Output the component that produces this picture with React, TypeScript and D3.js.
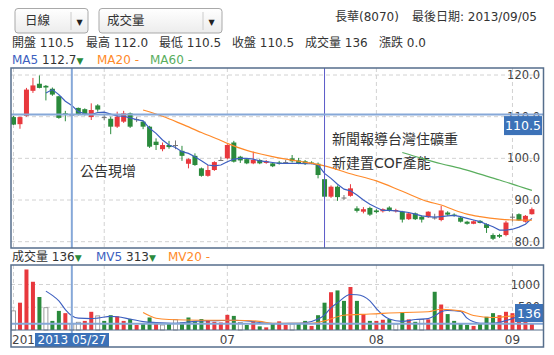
import React from 'react';
import * as d3 from 'd3';

const year = '2013';
const dates = [
  '05/14','05/15','05/16','05/17','05/20','05/21','05/22','05/23','05/24','05/27','05/28','05/29','05/30','05/31',
  '06/03','06/04','06/05','06/06','06/07','06/10','06/11','06/13','06/14','06/17','06/18','06/19','06/20','06/21','06/24','06/25','06/26','06/27','06/28',
  '07/01','07/02','07/03','07/04','07/05','07/08','07/09','07/10','07/11','07/12','07/15','07/16','07/17','07/18','07/19','07/22','07/23','07/24','07/25','07/26','07/29','07/30','07/31',
  '08/01','08/02','08/05','08/06','08/07','08/08','08/09','08/12','08/13','08/14','08/15','08/16','08/19','08/20','08/22','08/23','08/26','08/27','08/28','08/29','08/30',
  '09/02','09/03','09/04','09/05'
];

const open = [109.9,108.2,110.2,116.2,117.9,117.4,116.7,114.9,110.8,110.5,
 112.1,111.8,109.9,112.7,109.9,109.5,107.6,108.8,110.8,109.4,
 108.8,107.6,104.0,102.2,103.2,103.2,101.8,98.7,100.6,97.6,
 95.8,97.2,99.6,100.0,103.8,100.4,99.8,98.8,99.6,98.9,
 98.8,99.0,99.1,100.0,99.5,99.3,99.0,98.7,95.0,90.8,
 93.2,90.6,91.0,88.0,87.2,88.1,87.5,87.3,88.2,87.3,
 87.2,85.4,86.8,86.0,85.9,85.8,85.2,87.0,86.5,85.8,
 84.8,84.3,85.0,84.2,81.6,81.6,81.6,86.0,86.6,84.8,
 86.6];
const high = [110.2,110.0,116.9,119.3,119.9,117.6,117.0,115.0,111.4,112.0,
 112.2,112.0,113.2,113.0,110.5,110.0,111.2,111.4,111.0,110.0,
 109.0,107.8,104.8,103.8,104.2,104.3,103.0,100.0,101.2,97.8,
 98.4,99.3,100.4,103.4,104.2,100.6,100.0,101.6,99.8,99.6,
 99.0,99.4,99.6,100.8,100.1,99.6,99.3,99.0,95.2,93.5,
 93.5,91.2,93.8,88.5,88.3,88.4,87.8,88.0,88.5,87.9,
 87.4,87.0,87.0,86.3,87.3,86.7,88.6,87.3,86.8,86.0,
 85.0,85.1,85.2,84.4,82.0,81.9,85.0,86.8,86.8,86.4,
 88.2];
const low = [108.0,107.1,110.0,115.7,116.8,113.9,115.0,109.5,108.9,110.5,
 110.3,110.3,109.2,111.2,109.2,105.8,107.3,108.5,107.3,108.7,
 107.0,102.5,102.0,101.7,102.3,102.2,99.4,97.6,98.2,95.6,
 95.6,97.0,99.6,99.8,99.0,98.9,98.6,98.6,98.6,98.7,
 97.9,98.5,98.9,99.0,98.6,98.4,98.6,95.2,90.6,90.5,
 89.8,90.0,90.8,87.0,86.8,86.2,86.8,87.0,87.2,87.0,
 84.6,85.2,85.2,84.6,85.7,85.3,84.9,86.2,86.0,84.6,
 84.1,84.2,84.4,82.1,80.4,80.9,81.3,84.8,85.0,84.6,
 86.5];
const close = [108.1,109.9,116.5,117.5,116.9,117.0,115.3,109.7,110.5,110.5,
 110.5,110.4,111.6,111.7,109.9,107.6,110.0,110.8,107.6,109.4,
 107.6,102.8,103.2,103.2,102.7,103.2,100.6,99.8,98.4,95.8,
 97.2,99.1,99.6,103.2,99.2,99.5,98.8,99.6,98.8,99.3,
 98.1,98.7,99.1,99.3,98.8,98.7,98.8,96.0,90.8,93.2,
 90.7,90.6,92.8,87.4,87.8,86.5,87.1,87.8,87.5,87.6,
 85.3,86.8,85.4,85.3,87.2,85.8,87.5,86.5,86.3,84.8,
 84.3,84.9,84.5,83.3,80.7,81.2,84.6,86.0,85.1,86.2,
 87.8];

const volume = [420,600,1330,1060,725,490,200,420,370,136,
 170,200,400,310,200,325,300,200,240,110,
 130,275,165,110,150,225,165,275,200,240,
 217,180,165,333,310,165,110,200,80,58,
 150,190,110,130,130,200,90,325,600,830,
 870,640,945,640,350,200,200,225,240,130,
 385,233,180,233,233,840,560,350,200,150,
 110,90,150,290,370,325,400,370,300,250,
 150];
const volDir = ('wrrrgwggrw' + 'wrrwggrrgr' + 'ggrwgwgggg' + 'rrrrgwgrgr' + 'grrwggrggr' +
  'ggrgrgrrgw' + 'grgwrgrggg' + 'grgggrrrrr' + 'r').split('');

const ma5Start = 5;
const ma5 = [115.7,116.5,115.3,113.7,112.7,111.2,110.7,110.5,111.0,111.1,
 110.6,110.2,110.1,109.7,109.3,109.0,107.2,106.0,104.4,103.2,
 102.6,101.6,101.2,100.4,99.4,98.4,98.2,98.4,99.2,99.8,
 100.0,100.0,99.8,99.4,99.2,99.0,98.8,98.8,98.8,98.8,
 98.7,98.7,98.4,96.4,95.2,93.8,92.6,92.2,91.2,90.0,
 89.0,88.2,87.5,87.5,87.4,87.2,87.0,86.6,86.2,86.0,
 85.9,86.0,86.2,86.3,86.0,85.6,85.2,84.8,84.2,83.6,
 82.8,82.8,83.0,83.5,84.2,85.6];

const ma20Idx = [20,23,26,29,32,33,36,40,44,48,52,56,60,64,66,68,70,72,75,78,80];
const ma20Val = [111.6,110.1,108.2,106.2,104.3,103.6,101.9,100.4,99.3,98.2,96.3,94.6,92.1,89.6,88.8,87.6,86.6,86.0,85.4,85.2,85.2];
const ma60Idx = [60,63,66,69,72,75,78,80];
const ma60Val = [101.4,100.0,98.7,97.6,96.2,94.8,93.3,92.3];

const mv5Idx = [5,6,7,8,9,10,12,13,15,16,18,20,22,25,27,29,31,34,36,38,40,43,45,47,48,49,50,52,53,55,56,57,58,60,62,64,65,66,67,69,70,71,72,74,75,77,78,80];
const mv5Val = [855,760,640,450,313,260,250,262,300,290,240,185,165,150,175,200,205,215,200,165,140,145,160,240,330,490,600,780,775,640,470,330,240,190,230,250,310,400,430,410,260,180,150,150,170,250,300,300];
const mv20Idx = [20,22,24,29,34,38,40,46,48,51,55,60,64,66,69,71,74,77,80];
const mv20Val = [385,260,230,215,215,190,150,150,200,325,350,385,400,455,420,320,275,310,330];

const priceTicks = [80, 90, 100, 110, 120];
const volTicks = [500, 1000];
const cursorIdx = 9;
const cursorPrice = 110.5;
const cursorVol = 136;
const eventIdx = 48;

const headerItems = [['開盤', '110.5'], ['最高', '112.0'], ['最低', '110.5'], ['收盤', '110.5'], ['成交量', '136'], ['漲跌', '0.0']];
const headerX = [12, 86, 159, 232, 305, 379];

const FONT = '"DejaVu Sans", "Noto Sans CJK TC", sans-serif';
const RED = '#e8383d';
const GREEN = '#2a8a3c';
const GRAY = '#777';
const BLUE = '#3d5fc0';
const ORANGE = '#ff8a2a';
const MGREEN = '#5aae5e';
const FRAME = '#566e8c';
const CURSOR = '#86a8d8';
const BOX = '#3c72b8';

export default function App() {
  const n = dates.length;
  const x = d3.scaleLinear().domain([0, n - 1]).range([13.5, 531.9]);
  const y = d3.scaleLinear().domain([80, 120]).range([241.7, 75]);
  const yv = d3.scaleLinear().domain([0, 1000]).range([330, 284.5]);
  const fmt = d3.format('.1f');

  const mainTop = 68, mainBot = 248, left = 11, right = 543.5;
  const volTop = 265, volBot = 347, volBase = 330;

  const monthTicks: { i: number; label: string }[] = [];
  dates.forEach((d, i) => {
    if (i === 0) monthTicks.push({ i, label: year });
    else if (d.slice(0, 2) !== dates[i - 1].slice(0, 2)) monthTicks.push({ i, label: d.slice(0, 2) });
  });
  // the cursor date box hides the tick label that falls under it
  const boxX0 = 35, boxX1 = 109;
  const visibleTickLabels = monthTicks.filter(t => t.i === 0 || x(t.i) < boxX0 - 8 || x(t.i) > boxX1 + 8);

  const lineIdx = d3.line<number>().x((_, k) => x(k + ma5Start)).y(v => y(v));
  const sparse = (ys: d3.ScaleLinear<number, number>) =>
    d3.line<[number, number]>().x(p => x(p[0])).y(p => ys(p[1])).curve(d3.curveMonotoneX);
  const zip = (a: number[], b: number[]) => a.map((v, k) => [v, b[k]] as [number, number]);

  const cColor = (i: number) => (close[i] > open[i] ? RED : close[i] < open[i] ? GREEN : GRAY);
  const vColor = (i: number) => (volDir[i] === 'r' ? RED : volDir[i] === 'g' ? GREEN : '#fff');

  const dash = '4,3';
  const gridColor = '#d2d2d2';
  const cx = x(cursorIdx);

  return (
    <svg width={554} height={355} style={{ position: 'absolute', left: 0, top: 0, background: '#fff' }} fontFamily={FONT}>
      <defs>
        <linearGradient id="selg" x1="0" y1="0" x2="0" y2="1">
          <stop offset="0" stopColor="#ffffff" />
          <stop offset="1" stopColor="#ececec" />
        </linearGradient>
      </defs>
      {/* selects */}
      <rect x={15} y={8.5} width={73} height={24.5} rx={3} fill="url(#selg)" stroke="#a9a9a9" />
      <text x={25} y={25} fontSize={12.5} fill="#333">日線</text>
      <line x1={71} x2={71} y1={12} y2={30} stroke="#ccc" />
      <text x={79.5} y={24.5} fontSize={8} fill="#222" textAnchor="middle">▼</text>
      <rect x={99} y={8.5} width={123} height={24.5} rx={3} fill="url(#selg)" stroke="#a9a9a9" />
      <text x={107} y={25} fontSize={12.5} fill="#333">成交量</text>
      <line x1={203} x2={203} y1={12} y2={30} stroke="#ccc" />
      <text x={211.5} y={24.5} fontSize={8} fill="#222" textAnchor="middle">▼</text>

      <text x={335} y={20.5} fontSize={12} fill="#333">長華(8070)</text>
      <text x={537} y={20.5} fontSize={12} fill="#333" textAnchor="end">最後日期: 2013/09/05</text>

      {headerItems.map((it, k) => (
        <text key={k} x={headerX[k]} y={47} fontSize={12} fill="#333">{it[0] + ' ' + it[1]}</text>
      ))}

      <text x={12} y={64} fontSize={12}>
        <tspan fill={BLUE}>MA5 </tspan><tspan fill="#333">112.7</tspan><tspan fill={GREEN} fontSize={9}>▼</tspan>
      </text>
      <text x={97} y={64} fontSize={12} fill={ORANGE}>MA20 -</text>
      <text x={150} y={64} fontSize={12} fill={MGREEN}>MA60 -</text>

      {/* main grid */}
      {priceTicks.map(t => (
        <line key={t} x1={left} x2={right} y1={y(t)} y2={y(t)} stroke={gridColor} strokeDasharray={dash} />
      ))}
      {monthTicks.map(t => (
        <line key={'v' + t.i} x1={x(t.i)} x2={x(t.i)} y1={mainTop} y2={mainBot} stroke={gridColor} strokeDasharray={dash} />
      ))}
      {priceTicks.map(t => (
        <text key={'l' + t} x={540} y={y(t)} dy="0.36em" fontSize={11.5} fill="#444" textAnchor="end">{fmt(t)}</text>
      ))}

      {/* annotations */}
      <text x={80} y={176} fontSize={14} fill="#333">公告現增</text>
      <text x={332} y={144} fontSize={14} fill="#333">新聞報導台灣住礦重</text>
      <text x={332} y={168} fontSize={14} fill="#333">新建置COF產能</text>

      {/* candles */}
      {dates.map((_, i) => {
        const c = cColor(i);
        const yo = y(open[i]), yc = y(close[i]);
        const top = Math.min(yo, yc), h = Math.max(1, Math.abs(yo - yc));
        return (
          <g key={'c' + i}>
            <line x1={x(i)} x2={x(i)} y1={y(high[i])} y2={y(low[i])} stroke={c} strokeWidth={1} />
            <rect x={x(i) - 2.5} y={top} width={5} height={h} fill={c} />
          </g>
        );
      })}

      {/* MA lines */}
      <path d={lineIdx(ma5) || ''} fill="none" stroke={BLUE} strokeWidth={1.2} />
      <path d={sparse(y)(zip(ma20Idx, ma20Val)) || ''} fill="none" stroke={ORANGE} strokeWidth={1.2} />
      <path d={sparse(y)(zip(ma60Idx, ma60Val)) || ''} fill="none" stroke={MGREEN} strokeWidth={1.2} />

      {/* event line */}
      <line x1={x(eventIdx)} x2={x(eventIdx)} y1={mainTop} y2={mainBot} stroke="#5a5ac8" strokeWidth={1} />

      {/* crosshair main */}
      <line x1={left} x2={right} y1={y(cursorPrice)} y2={y(cursorPrice)} stroke={CURSOR} strokeWidth={2} />
      <line x1={cx} x2={cx} y1={mainTop} y2={mainBot} stroke={CURSOR} strokeWidth={2} />
      <rect x={504} y={y(cursorPrice) + 1.5} width={38} height={19} fill={BOX} />
      <text x={523} y={y(cursorPrice) + 11} dy="0.36em" fontSize={12.5} fill="#fff" textAnchor="middle">{fmt(cursorPrice)}</text>

      <rect x={left} y={mainTop} width={right - left} height={mainBot - mainTop} fill="none" stroke={FRAME} strokeWidth={1.5} />

      {/* volume panel */}
      <text x={12} y={261} fontSize={12}>
        <tspan fill="#333">成交量 136</tspan><tspan fill={GREEN} fontSize={9}>▼</tspan>
      </text>
      <text x={96} y={261} fontSize={12}>
        <tspan fill={BLUE}>MV5 </tspan><tspan fill="#333">313</tspan><tspan fill={GREEN} fontSize={9}>▼</tspan>
      </text>
      <text x={168} y={261} fontSize={12} fill={ORANGE}>MV20 -</text>

      {volTicks.map(t => (
        <line key={'vg' + t} x1={left} x2={right} y1={yv(t)} y2={yv(t)} stroke={gridColor} strokeDasharray={dash} />
      ))}
      {monthTicks.map(t => (
        <line key={'vv' + t.i} x1={x(t.i)} x2={x(t.i)} y1={volTop} y2={volBase} stroke={gridColor} strokeDasharray={dash} />
      ))}
      {volTicks.map(t => (
        <text key={'vl' + t} x={540} y={yv(t)} dy="0.36em" fontSize={11.5} fill="#444" textAnchor="end">{t}</text>
      ))}

      {volume.map((v, i) => (
        <rect key={'b' + i} x={x(i) - 2} y={yv(v)} width={4} height={volBase - yv(v)}
          fill={vColor(i)} stroke={volDir[i] === 'w' ? '#888' : 'none'} strokeWidth={0.8} />
      ))}

      <path d={sparse(yv)(zip(mv5Idx, mv5Val)) || ''} fill="none" stroke={BLUE} strokeWidth={1.1} />
      <path d={sparse(yv)(zip(mv20Idx, mv20Val)) || ''} fill="none" stroke={ORANGE} strokeWidth={1.1} />

      <line x1={left} x2={right} y1={yv(cursorVol)} y2={yv(cursorVol)} stroke={CURSOR} strokeWidth={2} />
      <line x1={cx} x2={cx} y1={volTop} y2={334} stroke={CURSOR} strokeWidth={2} />
      <rect x={515} y={304} width={28} height={18} fill={BOX} />
      <text x={529} y={313} dy="0.36em" fontSize={12.5} fill="#fff" textAnchor="middle">{cursorVol}</text>

      <line x1={left} x2={right} y1={volBase} y2={volBase} stroke={FRAME} strokeWidth={1} />

      {/* x axis labels */}
      {visibleTickLabels.map(t => (
        <text key={'xl' + t.i} x={t.i === 0 ? 12 : x(t.i)} y={343.5} fontSize={12} fill="#444"
          textAnchor={t.i === 0 ? 'start' : 'middle'}>{t.label}</text>
      ))}
      <rect x={boxX0} y={333} width={boxX1 - boxX0} height={14} fill={BOX} />
      <text x={72} y={340} dy="0.36em" fontSize={12} fill="#fff" textAnchor="middle">{year + ' ' + dates[cursorIdx]}</text>

      <rect x={left} y={volTop} width={right - left} height={volBot - volTop} fill="none" stroke={FRAME} strokeWidth={1.5} />
    </svg>
  );
}
